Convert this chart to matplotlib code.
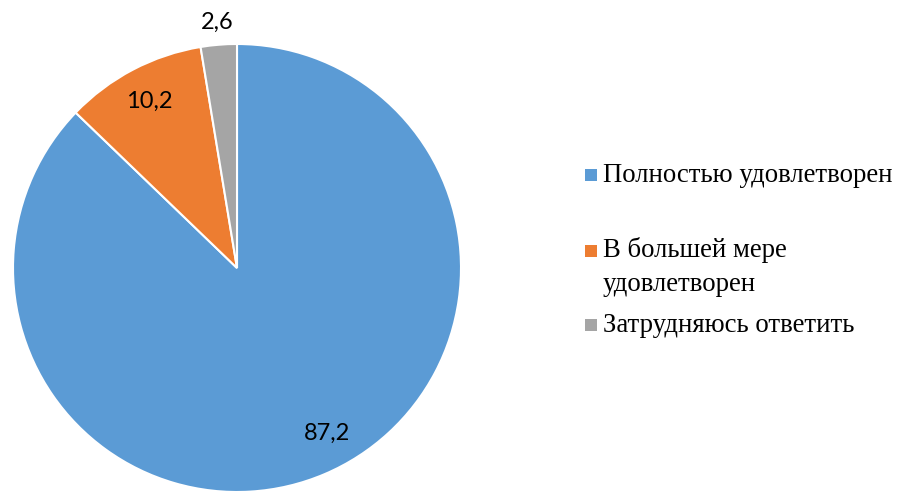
import numpy as np
import matplotlib.pyplot as plt
from matplotlib.patches import Rectangle

# данные опроса
categories = ["Полностью удовлетворен", "В большей мере\nудовлетворен", "Затрудняюсь ответить"]
values = [87.2, 10.2, 2.6]
value_labels = ["87,2", "10,2", "2,6"]
colors = ["#5B9BD5", "#ED7D31", "#A5A5A5"]

W, H = 897, 491
fig = plt.figure(figsize=(W / 100, H / 100), dpi=100)

# круг: центр (237, 268), радиус ~224 px
cx, cy, r = 237, 268, 224
ax = fig.add_axes([(cx - r) / W, (H - cy - r) / H, 2 * r / W, 2 * r / H])
wedges, _ = ax.pie(values, colors=colors, startangle=90, counterclock=False,
                   radius=1, wedgeprops=dict(edgecolor="white", linewidth=1.5))
ax.set_xlim(-1, 1)
ax.set_ylim(-1, 1)
ax.set_aspect("equal")
ax.axis("off")

# подписи значений
dists = [0.84, 0.84, 1.10]
shift = [5.5, 0, 0]  # небольшое смещение угла для подписи синего сектора
for w, lab, d, s in zip(wedges, value_labels, dists, shift):
    ang = np.deg2rad((w.theta1 + w.theta2) / 2 + s)
    ax.text(d * np.cos(ang), d * np.sin(ang), lab, ha="center", va="center",
            fontsize=17, family="Lato", color="black", clip_on=False)

# легенда вручную (как в Excel)
text_x = 603
rows_y = [175, 267, 325]
sq_y = [175, 251, 325]
sq = 12
for lab, col, ty, syy in zip(categories, colors, rows_y, sq_y):
    fig.patches.append(Rectangle(((text_x - 18) / W, (H - syy - sq / 2) / H), sq / W, sq / H,
                                 transform=fig.transFigure, facecolor=col, edgecolor="none"))
    fig.text(text_x / W, (H - ty) / H, lab, ha="left", va="center",
             fontsize=19.3, family="Liberation Serif", linespacing=1.45)

fig.savefig("out.png", dpi=100)
